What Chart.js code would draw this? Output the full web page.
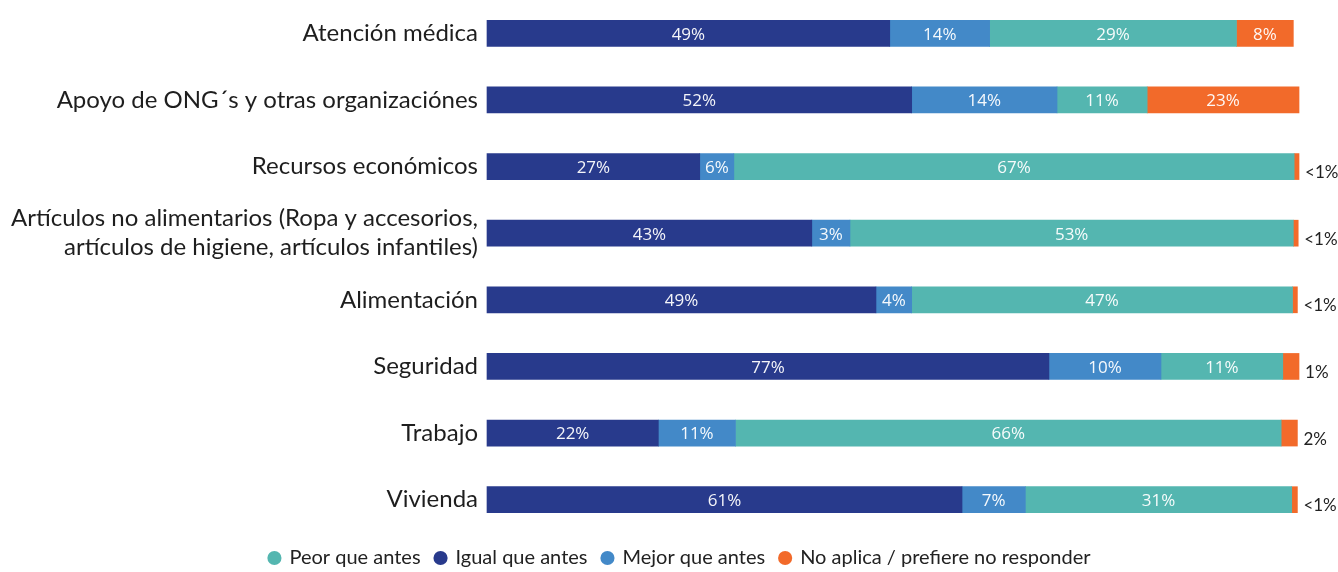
<!DOCTYPE html>
<html>
<head>
<meta charset="utf-8">
<script src="https://cdn.jsdelivr.net/npm/chart.js@4.4.1/dist/chart.umd.min.js"></script>
<style>
  html, body { margin: 0; padding: 0; background: #fff; }
  #wrap { width: 1338px; height: 572px; }
</style>
</head>
<body>
<div id="wrap"><canvas id="chart"></canvas></div>
<script>
const categories = [
  'Atención médica',
  'Apoyo de ONG´s y otras organizaciónes',
  'Recursos económicos',
  ['Artículos no alimentarios (Ropa y accesorios,', 'artículos de higiene, artículos infantiles)'],
  'Alimentación',
  'Seguridad',
  'Trabajo',
  'Vivienda'
];

// bar lengths as drawn in the picture
const igual = [49.6, 52.3, 26.2, 40.0, 47.9, 69.2, 21.1, 58.5];
const mejor = [12.3, 17.9, 4.2, 4.7, 4.4, 13.8, 9.5, 7.8];
const peor = [30.4, 11.1, 69.0, 54.6, 46.9, 15.0, 67.2, 32.8];
const noAplica = [7.0, 18.7, 0.6, 0.6, 0.6, 2.0, 2.0, 0.7];

// printed labels
const igualText = ['49%', '52%', '27%', '43%', '49%', '77%', '22%', '61%'];
const mejorText = ['14%', '14%', '6%', '3%', '4%', '10%', '11%', '7%'];
const peorText = ['29%', '11%', '67%', '53%', '47%', '11%', '66%', '31%'];
const noAplicaText = ['8%', '23%', '<1%', '<1%', '<1%', '1%', '2%', '<1%'];

const legendOrder = ['Peor que antes', 'Igual que antes', 'Mejor que antes', 'No aplica / prefiere no responder'];

const barLabels = {
  id: 'barLabels',
  afterDatasetsDraw(chart) {
    const ctx = chart.ctx;
    ctx.save();
    ctx.textBaseline = 'middle';
    chart.data.datasets.forEach((ds, di) => {
      const meta = chart.getDatasetMeta(di);
      meta.data.forEach((bar, i) => {
        const txt = ds.texts[i];
        const w = Math.abs(bar.x - bar.base);
        if (w > 20) {
          ctx.font = '17px "Open Sans"';
          ctx.fillStyle = 'rgba(255,255,255,0.95)';
          ctx.textAlign = 'center';
          ctx.fillText(txt, (bar.x + bar.base) / 2, bar.y + 1.5);
        } else {
          ctx.font = '17px Lato';
          ctx.fillStyle = '#222';
          ctx.textAlign = 'left';
          ctx.fillText(txt, bar.x + 6, bar.y + 6);
        }
      });
    });
    ctx.restore();
  }
};

new Chart(document.getElementById('chart'), {
  type: 'bar',
  data: {
    labels: categories,
    datasets: [
      { label: 'Igual que antes', data: igual, texts: igualText, backgroundColor: '#283a8c' },
      { label: 'Mejor que antes', data: mejor, texts: mejorText, backgroundColor: '#4389c8' },
      { label: 'Peor que antes', data: peor, texts: peorText, backgroundColor: '#54b6b0' },
      { label: 'No aplica / prefiere no responder', data: noAplica, texts: noAplicaText, backgroundColor: '#f26a2a' }
    ]
  },
  options: {
    indexAxis: 'y',
    responsive: true,
    maintainAspectRatio: false,
    animation: false,
    // right padding < 0 so the legend centres where the original one does
    layout: { padding: { top: -3, left: 0, right: -22, bottom: -6 } },
    datasets: { bar: { barThickness: 26, clip: false } },
    scales: {
      x: { stacked: true, display: false, min: 0, max: 104.8 },
      y: {
        stacked: true,
        offset: true,
        grid: { display: false, drawTicks: false },
        border: { display: false },
        ticks: {
          autoSkip: false,
          padding: 9,
          color: '#1e1e1e',
          font: { family: 'Lato', size: 24, lineHeight: 1.21 }
        },
        afterFit(scale) {
          scale.width = 487;
          scale.paddingTop = 0;
          scale.paddingBottom = 0;
        }
      }
    },
    plugins: {
      legend: {
        position: 'bottom',
        labels: {
          usePointStyle: true,
          pointStyle: 'circle',
          boxWidth: 10,
          boxHeight: 10,
          padding: 15,
          color: '#222',
          font: { family: 'Lato', size: 20 },
          sort: (a, b) => legendOrder.indexOf(a.text) - legendOrder.indexOf(b.text)
        }
      },
      tooltip: { enabled: false }
    }
  },
  plugins: [barLabels]
});
</script>
</body>
</html>
